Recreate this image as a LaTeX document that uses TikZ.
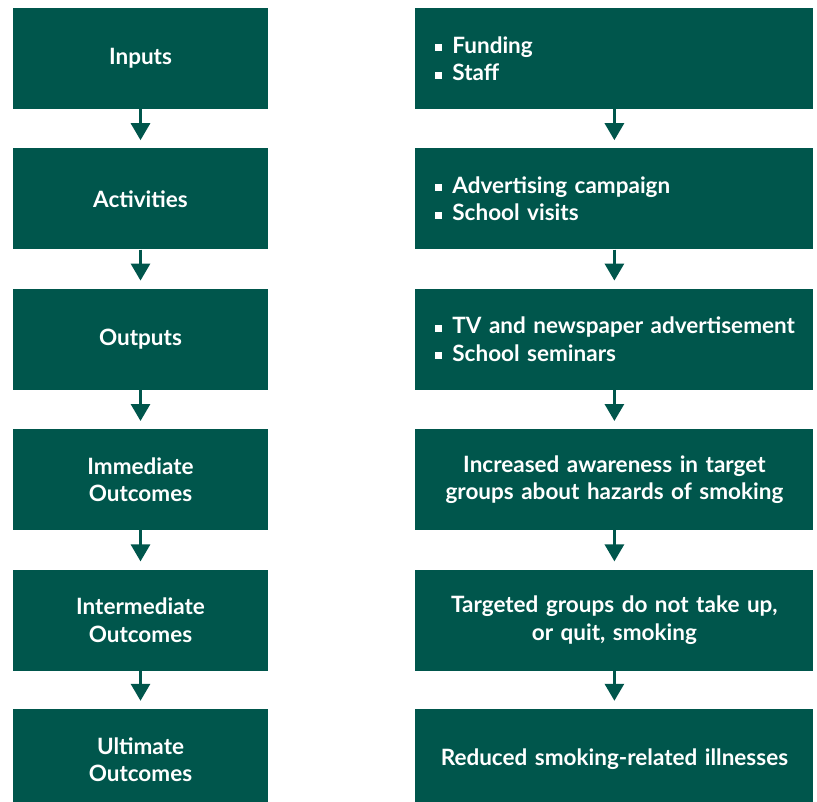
\documentclass[tikz,border=0pt]{standalone}
\usepackage{fontspec}
\setmainfont{Lato}
\usetikzlibrary{positioning,arrows.meta}
\definecolor{verdeLogico}{RGB}{0,86,76}
\tikzstyle{Etapa}=[rectangle, fill=verdeLogico, inner sep=0pt, minimum width=255pt, minimum height=101pt, text=white, align=center, font=\fontsize{22.5}{27.5}\selectfont\bfseries]
\tikzstyle{Ejemplo}=[rectangle, fill=verdeLogico, inner xsep=20pt, inner ysep=0pt, text width=358pt, minimum height=101pt, text=white, font=\fontsize{22.5}{27.5}\selectfont\bfseries]
\tikzstyle{Flecha}=[-{Triangle[width=19pt,length=17pt]}, draw=verdeLogico, line width=3pt, shorten >=8pt]
\newcommand{\punto}{\rule[2pt]{7pt}{7pt}\hspace{10pt}}

\begin{document}
\begin{tikzpicture}
			\useasboundingbox (0pt,0pt) rectangle (817pt,-802pt);
			%Columna izquierda
			\node[Etapa]		(inputs)	at (140.5pt,-58.5pt)			{Inputs};
			\node[Etapa]		(activities)	[below=39pt of inputs]		{Activities};
			\node[Etapa]		(outputs)	[below=39pt of activities]		{Outputs};
			\node[Etapa]		(immediate)	[below=39pt of outputs]		{Immediate\\Outcomes};
			\node[Etapa]		(intermediate)	[below=39pt of immediate]	{Intermediate\\Outcomes};
			\node[Etapa]		(ultimate)	[below=38pt of intermediate]	{Ultimate\\Outcomes};

			%Columna derecha
			\node[Ejemplo, align=left]	(funding)	[right=147pt of inputs]		{\punto Funding\\\punto Staff};
			\node[Ejemplo, align=left]	(campaign)	[right=147pt of activities]	{\punto Advertising campaign\\\punto School visits};
			\node[Ejemplo, align=left]	(seminars)	[right=147pt of outputs]	{\punto\mbox{TV and newspaper advertisement}\\\punto School seminars};
			\node[Ejemplo, align=center]	(awareness)	[right=147pt of immediate]	{Increased awareness in target\\groups about hazards of smoking};
			\node[Ejemplo, align=center]	(quit)		[right=147pt of intermediate]	{Targeted groups do not take up,\\or quit, smoking};
			\node[Ejemplo, align=center]	(illnesses)	[right=147pt of ultimate]	{Reduced smoking-related illnesses};

			%Flechas
			\draw[Flecha] (inputs.south) -- (activities.north);
			\draw[Flecha] (activities.south) -- (outputs.north);
			\draw[Flecha] (outputs.south) -- (immediate.north);
			\draw[Flecha] (immediate.south) -- (intermediate.north);
			\draw[Flecha] (intermediate.south) -- (ultimate.north);

			\draw[Flecha] (funding.south) -- (campaign.north);
			\draw[Flecha] (campaign.south) -- (seminars.north);
			\draw[Flecha] (seminars.south) -- (awareness.north);
			\draw[Flecha] (awareness.south) -- (quit.north);
			\draw[Flecha] (quit.south) -- (illnesses.north);

		\end{tikzpicture}
\end{document}
